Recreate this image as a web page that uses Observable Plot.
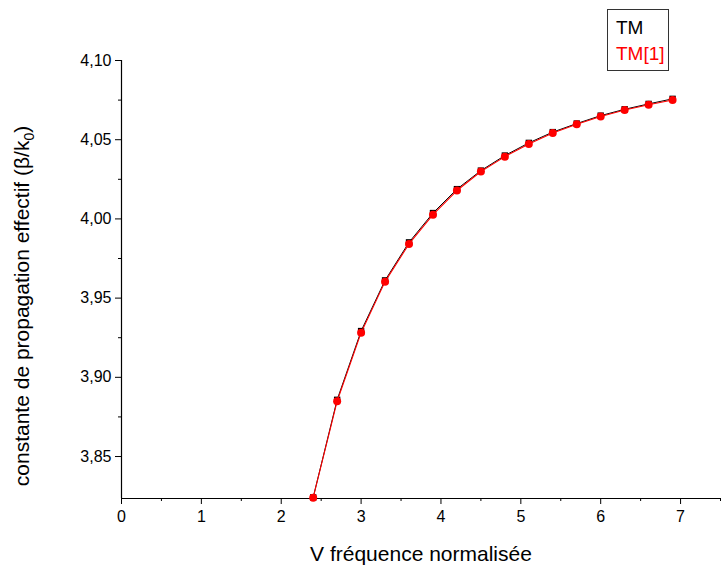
<!DOCTYPE html>
<html><head><meta charset="utf-8">
<script src="https://cdn.jsdelivr.net/npm/d3@7"></script>
<script src="https://cdn.jsdelivr.net/npm/@observablehq/plot@0.6"></script>
<style>
body{margin:0;background:#fff}
#wrap{position:relative;width:721px;height:566px;font-family:"Liberation Sans",Arial,sans-serif}
#legend{position:absolute;left:607px;top:9px;width:60px;height:60px;border:1px solid #333;background:#fff;font-size:19px}
#legend div{position:absolute;left:8px;line-height:20px;white-space:nowrap}
</style></head>
<body><div id="wrap"><div id="legend"><div id="l0" style="top:8px;color:#000"></div><div id="l1" style="top:34px;color:#ff0000"></div></div></div>
<script>
const V = [2.4, 2.7, 3.0, 3.3, 3.6, 3.9, 4.2, 4.5, 4.8, 5.1, 5.4, 5.7, 6.0, 6.3, 6.6, 6.9];
const TM = [3.8242, 3.8858, 3.9292, 3.9612, 3.9852, 4.0037, 4.0188, 4.0305, 4.0400, 4.0480, 4.0548, 4.0602, 4.0652, 4.0692, 4.0726, 4.0758];
const TM1 = [3.8240, 3.8849, 3.9282, 3.9604, 3.9842, 4.0027, 4.0179, 4.0299, 4.0393, 4.0473, 4.0543, 4.0597, 4.0647, 4.0688, 4.0721, 4.0751];
const seriesNames = ["TM", "TM[1]"];
const yTicks = [3.85, 3.90, 3.95, 4.00, 4.05, 4.10];
const yMinor = [3.875, 3.925, 3.975, 4.025, 4.075];
const xTicks = [0, 1, 2, 3, 4, 5, 6, 7];
const xMinor = [0.5, 1.5, 2.5, 3.5, 4.5, 5.5, 6.5, 7.5];
const xTitle = "V fréquence normalisée";
const yTitle = "constante de propagation effectif (β/k";
const yDomain = [3.8235, 4.10];
const xDomain = [0, 7.5];

const tm = V.map((v, i) => ({v, b: TM[i]}));
const tm1 = V.map((v, i) => ({v, b: TM1[i]}));
const fmt = d => d.toFixed(2).replace(".", ",");

const chart = Plot.plot({
  width: 721, height: 566,
  marginLeft: 121, marginRight: 1, marginTop: 60, marginBottom: 68,
  style: {fontFamily: "'Liberation Sans', Arial, sans-serif", fontSize: "16px", color: "#000", background: "#fff"},
  x: {domain: xDomain},
  y: {domain: yDomain},
  marks: [
    Plot.axisY(yTicks, {tickSize: 6, tickPadding: 4, tickFormat: fmt, label: null, fontSize: 16}),
    Plot.axisY(yMinor, {tickSize: 3, text: null, label: null}),
    Plot.axisX(xTicks, {tickSize: 6, tickPadding: 6, tickFormat: d => String(d), label: null, fontSize: 16}),
    Plot.axisX(xMinor, {tickSize: 3, text: null, label: null}),
    Plot.ruleX([0], {y1: yDomain[0], y2: yDomain[1], stroke: "#000", strokeWidth: 1.2}),
    Plot.ruleY([yDomain[0]], {stroke: "#000", strokeWidth: 1.2}),
    Plot.line(tm, {x: "v", y: "b", stroke: "#000", strokeWidth: 1}),
    Plot.dot(tm, {x: "v", y: "b", symbol: "square", r: 3.6, fill: "#000", stroke: "none"}),
    Plot.line(tm1, {x: "v", y: "b", stroke: "#ff0000", strokeWidth: 1.1}),
    Plot.dot(tm1, {x: "v", y: "b", r: 4, fill: "#ff0000", stroke: "none"})
  ]
});

const svg = d3.select(chart);
svg.append("text")
  .attr("x", 421).attr("y", 561)
  .attr("text-anchor", "middle")
  .attr("font-size", 21)
  .attr("fill", "#000")
  .text(xTitle);
const yt = svg.append("text")
  .attr("transform", "translate(29,306) rotate(-90)")
  .attr("text-anchor", "middle")
  .attr("font-size", 21)
  .attr("fill", "#000");
yt.append("tspan").text(yTitle);
yt.append("tspan").attr("font-size", 14).attr("dy", 5).text("0");
yt.append("tspan").attr("dy", -5).text(")");

document.getElementById("wrap").prepend(chart);
document.getElementById("l0").textContent = seriesNames[0];
document.getElementById("l1").textContent = seriesNames[1];
</script>
</body></html>
